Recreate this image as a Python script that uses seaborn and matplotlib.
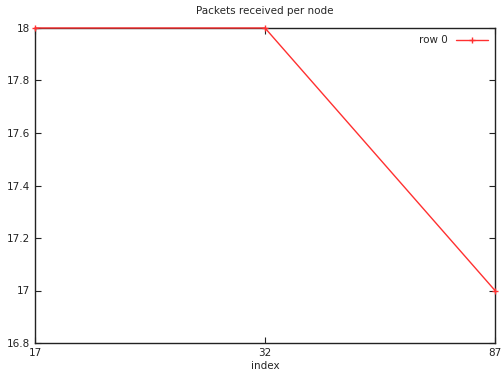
import matplotlib
matplotlib.use("Agg")
import matplotlib.pyplot as plt
import seaborn as sns
import pandas as pd

categories = ["17", "32", "87"]
values = [18, 18, 17]
series_name = "row 0"

sns.set_style("white")
plt.rcParams['font.family'] = ['DejaVu Sans']

df = pd.DataFrame({"pos": range(len(categories)), "value": values, "series": series_name})

fig = plt.figure(figsize=(5.01, 3.76), dpi=100)
ax = fig.add_axes([35/501, 1 - 343/376, 460/501, 315/376])
sns.lineplot(data=df, x="pos", y="value", hue="series", palette=["#ff3030"],
             marker="+", markersize=4.5, markeredgewidth=1, markeredgecolor="#ff3030",
             linewidth=1, ax=ax)
for ln in ax.lines:
    ln.set_clip_on(False)
    ln.set_zorder(5)
ax.set_xlim(0, len(categories) - 1)
ax.set_ylim(16.8, 18)
ax.set_xticks(range(len(categories)))
ax.set_xticklabels(categories)
ax.set_yticks([16.8, 17, 17.2, 17.4, 17.6, 17.8, 18])
ax.set_yticklabels(["16.8", "17", "17.2", "17.4", "17.6", "17.8", "18"])
ax.tick_params(direction="in", length=4, width=0.8, labelsize=7.5, colors="#222222",
               top=True, right=True, left=True, bottom=True)
for s in ax.spines.values():
    s.set_color("#222222")
    s.set_linewidth(1)
ax.set_xlabel("index", fontsize=7.5, labelpad=2)
ax.set_ylabel("")
ax.set_title("Packets received per node", fontsize=7.5, pad=10)
leg = ax.legend(loc="upper right", frameon=False, fontsize=7.5, markerfirst=False,
                handlelength=3, borderaxespad=0.3)
for h in leg.get_lines():
    h.set_markeredgecolor("#ff3030")
fig.savefig("out.png", dpi=100)
